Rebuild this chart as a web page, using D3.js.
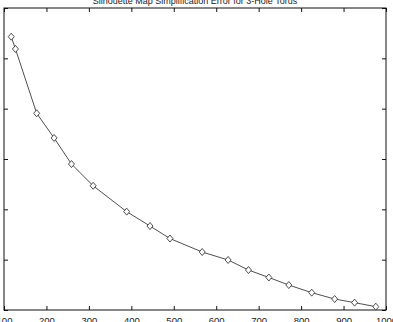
<!DOCTYPE html>
<html>
<head>
<meta charset="utf-8">
<script src="https://cdn.jsdelivr.net/npm/d3@7"></script>
<style>
  body { margin: 0; background: #fff; }
  svg { display: block; }
</style>
</head>
<body>
<script>
'use strict';

// data
const chartTitle = "Silhouette Map Simplification Error for 3-Hole Torus";
const vertices = [117, 127, 177, 218, 259, 310, 389, 444, 491, 567, 628, 676, 724, 771, 825, 879, 926, 976];
const errors = [0.2715, 0.2593, 0.1954, 0.1709, 0.1450, 0.1234, 0.0977, 0.0834, 0.0710, 0.0576,
                0.0497, 0.0397, 0.0323, 0.0248, 0.0172, 0.0109, 0.0073, 0.0033];
const xTicks = [100, 200, 300, 400, 500, 600, 700, 800, 900, 1000];
const yTicks = [0, 0.05, 0.1, 0.15, 0.2, 0.25, 0.3];

(function() {
  const width = 393, height = 322;
  const plotLeft = 4, plotRight = 386, plotTop = 8, plotBottom = 310;

  let svg = d3.select('body').append('svg')
    .attr('width', width)
    .attr('height', height);

  let xScale = d3.scaleLinear().domain([100, 1000]).range([plotLeft, plotRight]);
  let yScale = d3.scaleLinear().domain([0, 0.3]).range([plotBottom, plotTop]);

  // title (partly cut at the top, as in the original)
  svg.append('text')
    .attr('x', (plotLeft + plotRight) / 2)
    .attr('y', 4)
    .attr('text-anchor', 'middle')
    .style('font-family', 'Liberation Sans, Arial, sans-serif')
    .style('font-size', '9px')
    .style('fill', '#222')
    .text(chartTitle);

  // axes with inward ticks, mirrored on top and right
  let fontStyle = g => g.selectAll('text')
    .style('font-family', 'Liberation Sans, Arial, sans-serif')
    .style('font-size', '9.5px')
    .style('fill', '#222');

  svg.append('g')
    .attr('transform', 'translate(0,' + plotBottom + ')')
    .call(d3.axisBottom(xScale).tickValues(xTicks).tickFormat(d3.format('d'))
      .tickSizeInner(-4).tickSizeOuter(0).tickPadding(7))
    .call(fontStyle);

  svg.append('g')
    .attr('transform', 'translate(0,' + plotTop + ')')
    .call(d3.axisTop(xScale).tickValues(xTicks).tickSizeInner(-4).tickSizeOuter(0).tickFormat(''));

  svg.append('g')
    .attr('transform', 'translate(' + plotLeft + ',0)')
    .call(d3.axisLeft(yScale).tickValues(yTicks).tickSizeInner(-4).tickSizeOuter(0).tickPadding(7))
    .call(fontStyle);

  svg.append('g')
    .attr('transform', 'translate(' + plotRight + ',0)')
    .call(d3.axisRight(yScale).tickValues(yTicks).tickSizeInner(-4).tickSizeOuter(0).tickFormat(''));

  svg.selectAll('.domain').remove();
  svg.selectAll('.tick line').style('stroke', '#111');

  // frame
  svg.append('rect')
    .attr('x', plotLeft)
    .attr('y', plotTop)
    .attr('width', plotRight - plotLeft)
    .attr('height', plotBottom - plotTop)
    .style('fill', 'none')
    .style('stroke', '#111')
    .style('stroke-width', 1);

  // line
  let points = vertices.map((v, i) => [v, errors[i]]);
  svg.append('path')
    .datum(points)
    .attr('d', d3.line().x(d => xScale(d[0])).y(d => yScale(d[1])))
    .style('fill', 'none')
    .style('stroke', '#222')
    .style('stroke-width', 0.8);

  // diamond markers
  svg.selectAll('.marker')
    .data(points)
    .enter().append('path')
    .attr('class', 'marker')
    .attr('transform', d => 'translate(' + xScale(d[0]) + ',' + yScale(d[1]) + ')')
    .attr('d', 'M0,-3.5L3,0L0,3.5L-3,0Z')
    .style('fill', '#fff')
    .style('stroke', '#222')
    .style('stroke-width', 0.8);
})();
</script>
</body>
</html>
